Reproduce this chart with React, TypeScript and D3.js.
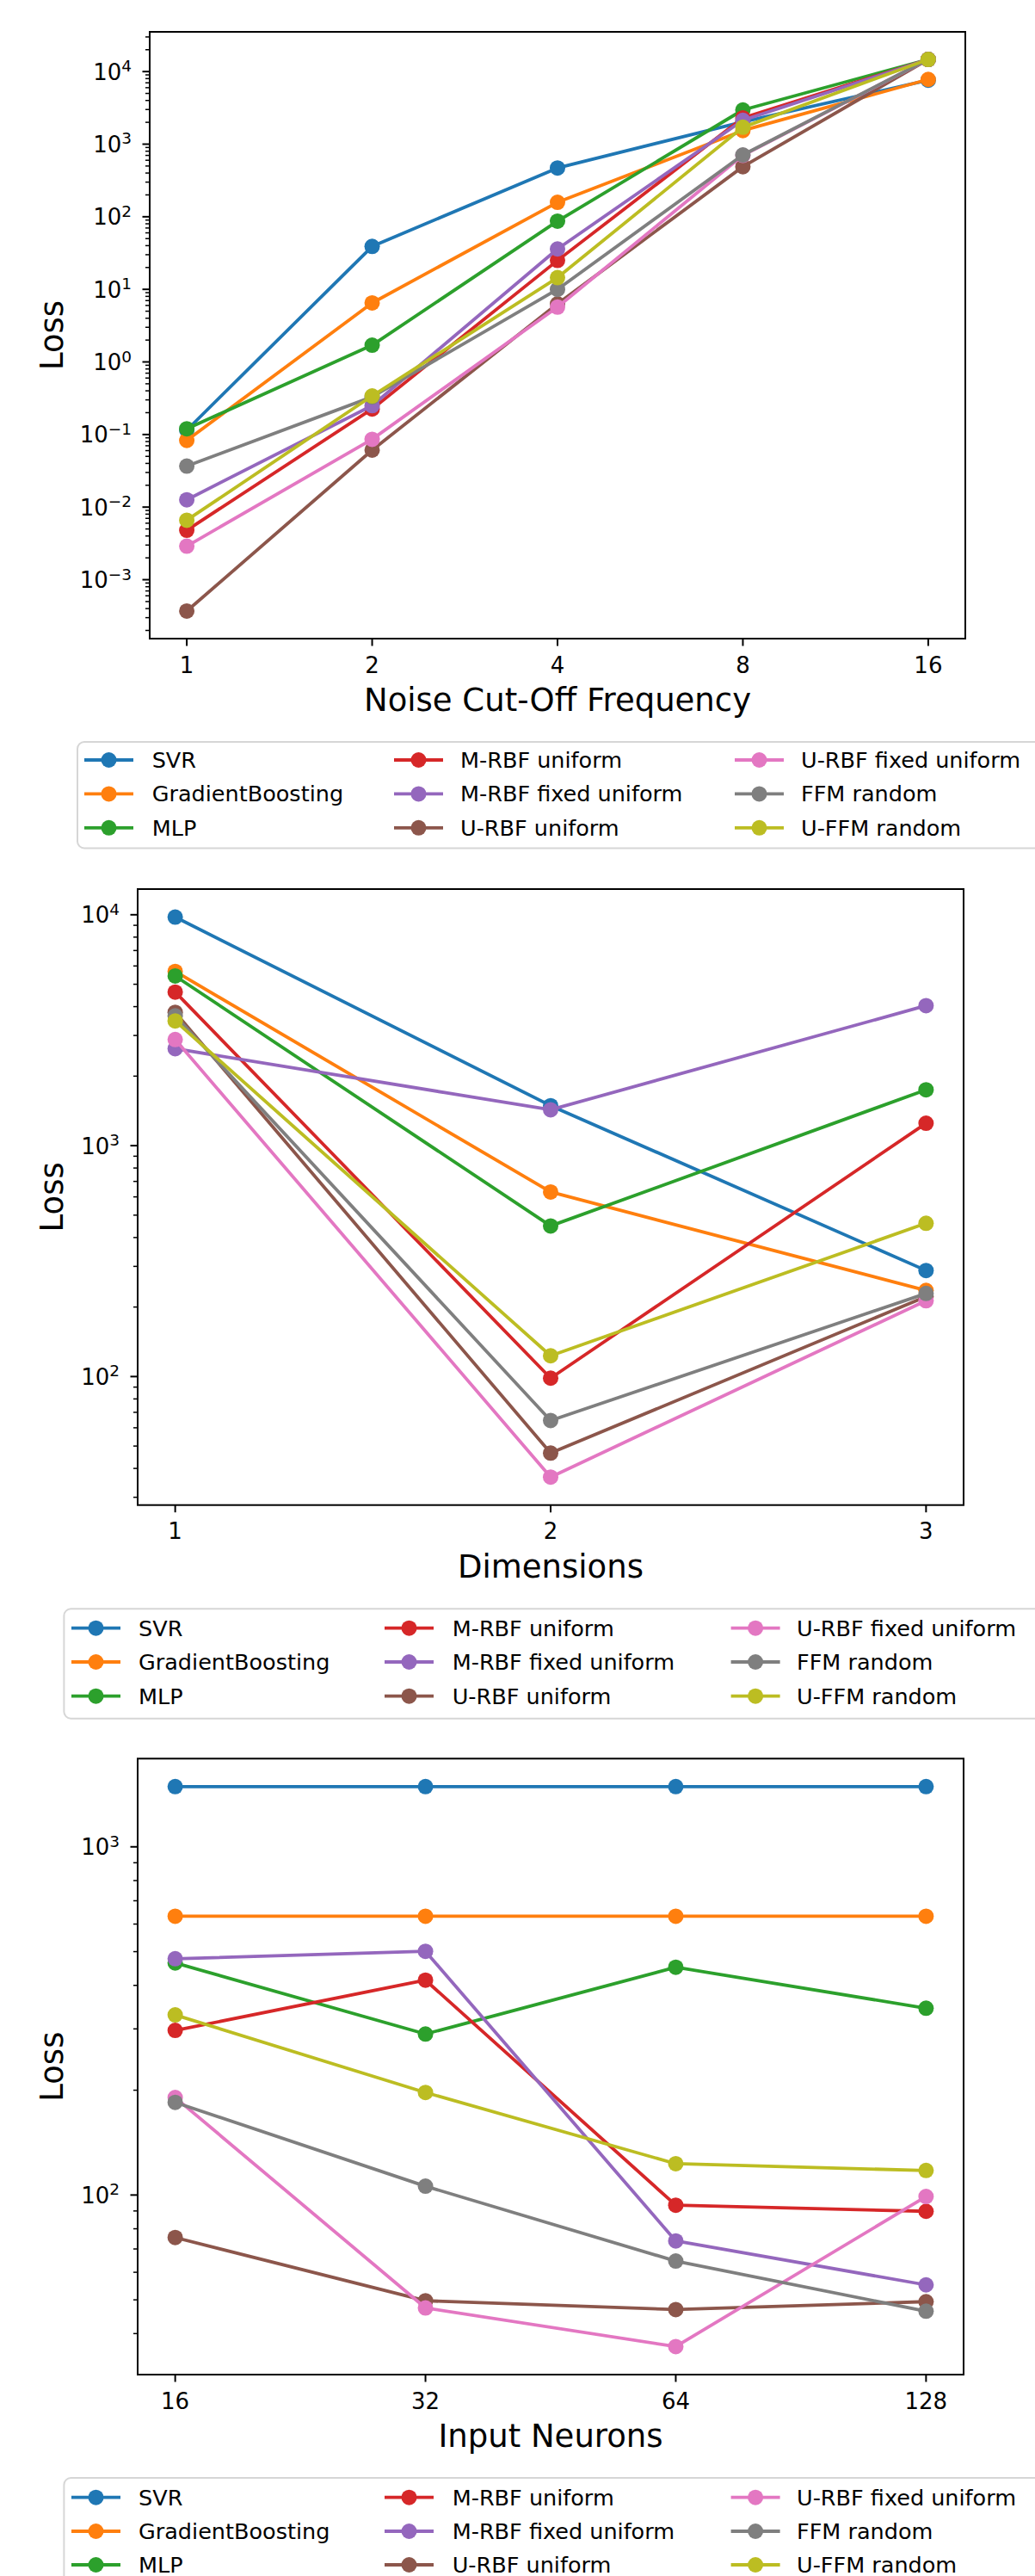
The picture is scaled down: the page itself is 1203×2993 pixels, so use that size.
import React from "react";
import * as d3 from "d3";

const seriesNames = [
  "SVR",
  "GradientBoosting",
  "MLP",
  "M-RBF uniform",
  "M-RBF fixed uniform",
  "U-RBF uniform",
  "U-RBF fixed uniform",
  "FFM random",
  "U-FFM random",
];
const seriesColors = [
  "#1f77b4",
  "#ff7f0e",
  "#2ca02c",
  "#d62728",
  "#9467bd",
  "#8c564b",
  "#e377c2",
  "#7f7f7f",
  "#bcbd22",
];

// Panel 1: Noise Cut-Off Frequency
const freqX = [1, 2, 4, 8, 16];
const svr1 = [0.115, 39, 470, 2030, 7600];
const gb1 = [0.083, 6.5, 158, 1540, 7800];
const mlp1 = [0.12, 1.7, 87, 2960, 14700];
const mrbf1 = [0.0048, 0.225, 25, 2300, 14700];
const mrbff1 = [0.0126, 0.25, 36, 2130, 14700];
const urbf1 = [0.00037, 0.061, 6.3, 490, 14700];
const urbff1 = [0.0029, 0.086, 5.7, 700, 14700];
const ffm1 = [0.0367, 0.33, 10, 710, 14700];
const uffm1 = [0.0066, 0.34, 14.5, 1710, 14700];

// Panel 2: Dimensions
const dimX = [1, 2, 3];
const svr2 = [9770, 1490, 288];
const gb2 = [5680, 630, 236];
const mlp2 = [5430, 449, 1745];
const mrbf2 = [4625, 98.4, 1250];
const mrbff2 = [2630, 1430, 4040];
const urbf2 = [3780, 46.6, 222];
const urbff2 = [2880, 36.7, 213];
const ffm2 = [3650, 64.5, 229];
const uffm2 = [3470, 123, 461];

// Panel 3: Input Neurons
const neuronX = [16, 32, 64, 128];
const svr3 = [1489, 1489, 1489, 1489];
const gb3 = [632, 632, 632, 632];
const mlp3 = [464, 290, 451, 344];
const mrbf3 = [297, 414, 93.5, 89.8];
const mrbff3 = [477, 501, 73.8, 55.2];
const urbf3 = [75.5, 49.7, 46.9, 49.4];
const urbff3 = [190.5, 47.4, 36.7, 99];
const ffm3 = [184.5, 106, 64.6, 46.4];
const uffm3 = [329, 197, 123, 117.6];

const xLabels = ["Noise Cut-Off Frequency", "Dimensions", "Input Neurons"];
const yLabel = "Loss";

const FONT = "DejaVu Sans, Verdana, sans-serif";

type PanelProps = {
  xs: number[];
  ys: number[][];
  xType: "log" | "linear";
  xLabel: string;
  box: { left: number; right: number; top: number; bottom: number };
  legend: { left: number; top: number; bottom: number; rows: number[]; handleX: number[]; textX: number[] };
};

function Panel({ xs, ys, xType, xLabel, box, legend }: PanelProps) {
  const { left, right, top, bottom } = box;
  let xScale: any;
  if (xType === "log") {
    const lo = Math.log2(xs[0]);
    const hi = Math.log2(xs[xs.length - 1]);
    const pad = (hi - lo) * 0.05;
    xScale = d3.scaleLog().base(2).domain([Math.pow(2, lo - pad), Math.pow(2, hi + pad)]).range([left, right]);
  } else {
    const lo = xs[0];
    const hi = xs[xs.length - 1];
    const pad = (hi - lo) * 0.05;
    xScale = d3.scaleLinear().domain([lo - pad, hi + pad]).range([left, right]);
  }
  const all = ys.flat();
  const lmin = Math.log10(d3.min(all) as number);
  const lmax = Math.log10(d3.max(all) as number);
  const ypad = (lmax - lmin) * 0.05;
  const yScale = d3
    .scaleLog()
    .domain([Math.pow(10, lmin - ypad), Math.pow(10, lmax + ypad)])
    .range([bottom, top]);

  const majors: number[] = [];
  const minors: number[] = [];
  for (let k = Math.floor(lmin - ypad) - 1; k <= Math.ceil(lmax + ypad) + 1; k++) {
    const v = Math.pow(10, k);
    if (k >= lmin - ypad - 1e-9 && k <= lmax + ypad + 1e-9) majors.push(k);
    for (let m = 2; m <= 9; m++) {
      const lv = Math.log10(m * v);
      if (lv >= lmin - ypad && lv <= lmax + ypad) minors.push(m * v);
    }
  }

  const line = d3
    .line<[number, number]>()
    .x((d) => xScale(d[0]))
    .y((d) => yScale(d[1]));

  const cx = (left + right) / 2;
  const cy = (top + bottom) / 2;

  return (
    <g>
      <defs>
        <clipPath id={`clip-${Math.round(top)}`}>
          <rect x={left} y={top} width={right - left} height={bottom - top} />
        </clipPath>
      </defs>
      <g clipPath={`url(#clip-${Math.round(top)})`}>
        {ys.map((vals, i) => {
          const pts: [number, number][] = xs.map((x, j) => [x, vals[j]]);
          return (
            <g key={i}>
              <path d={line(pts) as string} fill="none" stroke={seriesColors[i]} strokeWidth={3.8} strokeLinejoin="round" />
              {pts.map((p, j) => (
                <circle key={j} cx={xScale(p[0])} cy={yScale(p[1])} r={9} fill={seriesColors[i]} />
              ))}
            </g>
          );
        })}
      </g>
      <rect x={left} y={top} width={right - left} height={bottom - top} fill="none" stroke="#000" strokeWidth={2} />
      {minors.map((v, i) => (
        <line key={"mn" + i} x1={left - 5} x2={left} y1={yScale(v)} y2={yScale(v)} stroke="#000" strokeWidth={1.5} />
      ))}
      {majors.map((k) => {
        const y = yScale(Math.pow(10, k));
        const sup = k < 0 ? "\u2212" + Math.abs(k) : String(k);
        return (
          <g key={"mj" + k}>
            <line x1={left - 8.5} x2={left} y1={y} y2={y} stroke="#000" strokeWidth={2} />
            <text x={left - 21} y={y + 9.5} textAnchor="end" fontFamily={FONT} fontSize={26} fill="#000">
              10
              <tspan fontSize={18.5} dy={-9.5}>
                {sup}
              </tspan>
            </text>
          </g>
        );
      })}
      {xs.map((x, i) => (
        <g key={"xt" + i}>
          <line x1={xScale(x)} x2={xScale(x)} y1={bottom} y2={bottom + 8.5} stroke="#000" strokeWidth={2} />
          <text x={xScale(x)} y={bottom + 39.5} textAnchor="middle" fontFamily={FONT} fontSize={26} fill="#000">
            {x}
          </text>
        </g>
      ))}
      <text x={cx} y={bottom + 84} textAnchor="middle" fontFamily={FONT} fontSize={37} fill="#000">
        {xLabel}
      </text>
      <text
        transform={`translate(73,${cy}) rotate(-90)`}
        textAnchor="middle"
        fontFamily={FONT}
        fontSize={37}
        fill="#000"
      >
        {yLabel}
      </text>
      <rect
        x={legend.left}
        y={legend.top}
        width={1260 - legend.left}
        height={legend.bottom - legend.top}
        rx={8}
        ry={8}
        fill="#fff"
        fillOpacity={0.8}
        stroke="#d6d6d6"
        strokeWidth={2}
      />
      {seriesNames.map((name, i) => {
        const col = Math.floor(i / 3);
        const row = i % 3;
        const hx = legend.handleX[col];
        const ry = legend.rows[row];
        return (
          <g key={"lg" + i}>
            <line x1={hx} x2={hx + 57} y1={ry} y2={ry} stroke={seriesColors[i]} strokeWidth={3.8} />
            <circle cx={hx + 28.5} cy={ry} r={9} fill={seriesColors[i]} />
            <text x={legend.textX[col]} y={ry + 9} fontFamily={FONT} fontSize={25.5} fill="#000">
              {name}
            </text>
          </g>
        );
      })}
    </g>
  );
}

export default function App() {
  const p1 = [svr1, gb1, mlp1, mrbf1, mrbff1, urbf1, urbff1, ffm1, uffm1];
  const p2 = [svr2, gb2, mlp2, mrbf2, mrbff2, urbf2, urbff2, ffm2, uffm2];
  const p3 = [svr3, gb3, mlp3, mrbf3, mrbff3, urbf3, urbff3, ffm3, uffm3];
  return (
    <svg
      width={1203}
      height={2993}
      viewBox="0 0 1203 2993"
      style={{ position: "absolute", left: 0, top: 0, background: "#fff" }}
    >
      <rect x={0} y={0} width={1203} height={2993} fill="#fff" />
      <Panel
        xs={freqX}
        ys={p1}
        xType="log"
        xLabel={xLabels[0]}
        box={{ left: 174, right: 1122, top: 37, bottom: 742 }}
        legend={{
          left: 90,
          top: 862,
          bottom: 985.5,
          rows: [883, 922.4, 961.8],
          handleX: [98, 458, 854],
          textX: [176.7, 535, 931],
        }}
      />
      <Panel
        xs={dimX}
        ys={p2}
        xType="linear"
        xLabel={xLabels[1]}
        box={{ left: 160, right: 1120, top: 1033, bottom: 1748.7 }}
        legend={{
          left: 74.4,
          top: 1869.3,
          bottom: 1996.7,
          rows: [1891.7, 1931, 1970.7],
          handleX: [83, 447, 849.6],
          textX: [161, 525.7, 926],
        }}
      />
      <Panel
        xs={neuronX}
        ys={p3}
        xType="log"
        xLabel={xLabels[2]}
        box={{ left: 160, right: 1120, top: 2043.3, bottom: 2759 }}
        legend={{
          left: 74.4,
          top: 2879,
          bottom: 3010,
          rows: [2901.7, 2941, 2980],
          handleX: [83, 447, 849.6],
          textX: [161, 525.7, 926],
        }}
      />
    </svg>
  );
}
